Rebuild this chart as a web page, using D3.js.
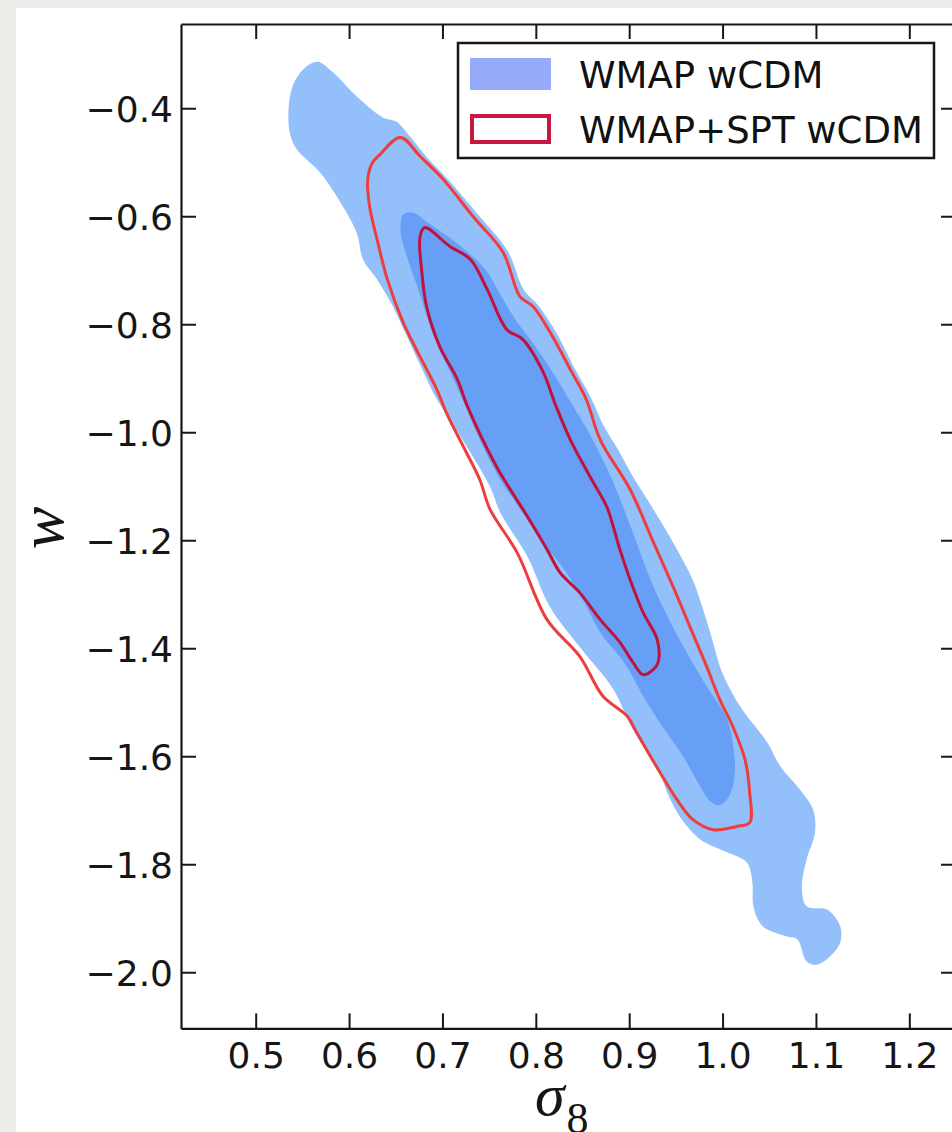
<!DOCTYPE html>
<html>
<head>
<meta charset="utf-8">
<script src="https://cdn.jsdelivr.net/npm/d3@7"></script>
<style>
  html, body { margin: 0; padding: 0; background: #ecece8; }
  svg { display: block; }
</style>
</head>
<body>
<svg id="chart" width="952" height="1132"></svg>
<script>
// Axis ticks
const xTicks = [0.5, 0.6, 0.7, 0.8, 0.9, 1.0, 1.1, 1.2];
const yTicks = [-2.0, -1.8, -1.6, -1.4, -1.2, -1.0, -0.8, -0.6, -0.4];

// Legend entries
const seriesNames = ["WMAP wCDM", "WMAP+SPT wCDM"];

// WMAP wCDM, 95% region (sigma_8, w)
const wmap95 = [[0.566,-0.314],[0.583,-0.334],[0.608,-0.378],[0.636,-0.417],[0.651,-0.425],[0.665,-0.452],[0.681,-0.486],[0.706,-0.532],[0.738,-0.597],[0.770,-0.665],[0.787,-0.736],[0.802,-0.764],[0.823,-0.819],[0.841,-0.880],[0.859,-0.936],[0.872,-0.986],[0.888,-1.032],[0.904,-1.082],[0.926,-1.143],[0.947,-1.204],[0.968,-1.273],[0.979,-1.328],[0.989,-1.384],[0.999,-1.443],[1.019,-1.508],[1.048,-1.575],[1.062,-1.619],[1.083,-1.662],[1.097,-1.699],[1.099,-1.741],[1.090,-1.791],[1.085,-1.841],[1.090,-1.878],[1.112,-1.884],[1.126,-1.915],[1.126,-1.945],[1.115,-1.971],[1.101,-1.986],[1.090,-1.980],[1.080,-1.939],[1.069,-1.934],[1.043,-1.915],[1.033,-1.878],[1.032,-1.834],[1.026,-1.797],[1.005,-1.778],[0.976,-1.754],[0.958,-1.721],[0.944,-1.680],[0.933,-1.634],[0.917,-1.588],[0.901,-1.541],[0.883,-1.476],[0.849,-1.402],[0.815,-1.323],[0.791,-1.230],[0.762,-1.149],[0.751,-1.101],[0.730,-1.038],[0.710,-0.982],[0.694,-0.939],[0.676,-0.875],[0.660,-0.815],[0.647,-0.767],[0.630,-0.717],[0.615,-0.680],[0.608,-0.630],[0.587,-0.564],[0.569,-0.519],[0.544,-0.476],[0.537,-0.449],[0.535,-0.408],[0.539,-0.362],[0.551,-0.328]];

// WMAP wCDM, 68% region
const wmap68 = [[0.658,-0.597],[0.668,-0.593],[0.683,-0.610],[0.703,-0.634],[0.724,-0.662],[0.746,-0.699],[0.762,-0.745],[0.778,-0.791],[0.794,-0.828],[0.818,-0.889],[0.839,-0.949],[0.855,-0.995],[0.869,-1.041],[0.883,-1.093],[0.904,-1.186],[0.926,-1.286],[0.954,-1.384],[0.983,-1.471],[1.005,-1.532],[1.013,-1.606],[1.013,-1.634],[1.008,-1.671],[0.997,-1.691],[0.987,-1.684],[0.976,-1.656],[0.958,-1.601],[0.938,-1.551],[0.917,-1.495],[0.896,-1.430],[0.869,-1.371],[0.853,-1.319],[0.833,-1.260],[0.805,-1.199],[0.780,-1.134],[0.762,-1.088],[0.740,-1.014],[0.724,-0.949],[0.708,-0.888],[0.692,-0.828],[0.681,-0.773],[0.673,-0.730],[0.662,-0.675],[0.655,-0.625]];

// WMAP+SPT wCDM, 95% contour
const spt95 = [[0.655,-0.454],[0.676,-0.489],[0.701,-0.532],[0.733,-0.601],[0.765,-0.667],[0.783,-0.749],[0.797,-0.767],[0.818,-0.823],[0.837,-0.884],[0.854,-0.939],[0.869,-1.014],[0.901,-1.106],[0.926,-1.204],[0.947,-1.286],[0.965,-1.360],[0.983,-1.434],[0.997,-1.495],[1.011,-1.545],[1.024,-1.606],[1.029,-1.667],[1.029,-1.723],[1.015,-1.730],[0.990,-1.736],[0.968,-1.717],[0.951,-1.680],[0.933,-1.630],[0.908,-1.556],[0.898,-1.526],[0.872,-1.489],[0.847,-1.415],[0.812,-1.347],[0.780,-1.223],[0.751,-1.143],[0.740,-1.088],[0.724,-1.032],[0.705,-0.967],[0.694,-0.921],[0.676,-0.860],[0.658,-0.797],[0.641,-0.717],[0.630,-0.643],[0.622,-0.582],[0.620,-0.532],[0.625,-0.501],[0.633,-0.486]];

// WMAP+SPT wCDM, 68% contour
const spt68 = [[0.681,-0.621],[0.708,-0.656],[0.730,-0.680],[0.748,-0.736],[0.769,-0.810],[0.786,-0.828],[0.808,-0.889],[0.821,-0.949],[0.837,-1.014],[0.858,-1.082],[0.876,-1.138],[0.883,-1.175],[0.890,-1.217],[0.901,-1.273],[0.915,-1.334],[0.930,-1.384],[0.931,-1.426],[0.926,-1.439],[0.915,-1.449],[0.904,-1.426],[0.890,-1.389],[0.869,-1.347],[0.847,-1.297],[0.826,-1.260],[0.812,-1.217],[0.791,-1.156],[0.758,-1.064],[0.726,-0.949],[0.716,-0.902],[0.697,-0.841],[0.683,-0.767],[0.678,-0.704],[0.676,-0.638]];

const svg = d3.select("#chart");
const W = 952, H = 1132;

// page backdrop and white panel
svg.append("rect").attr("width", W).attr("height", H).attr("fill", "#ecece8");
svg.append("rect").attr("x", 16).attr("y", 8).attr("width", W - 16).attr("height", H - 8).attr("fill", "#ffffff");

const plot = { left: 181, top: 24, right: 956, bottom: 1028.4 };

const x = d3.scaleLinear().domain([0.42, 1.25]).range([plot.left, plot.right]);
const y = d3.scaleLinear().domain([-2.104, -0.244]).range([plot.bottom, plot.top]);

svg.append("clipPath").attr("id", "plotClip")
  .append("rect")
  .attr("x", plot.left).attr("y", plot.top)
  .attr("width", plot.right - plot.left).attr("height", plot.bottom - plot.top);

const gPlot = svg.append("g").attr("clip-path", "url(#plotClip)");

const smooth = d3.line().x(d => x(d[0])).y(d => y(d[1])).curve(d3.curveCatmullRomClosed.alpha(0.5));

gPlot.append("path").attr("d", smooth(wmap95)).attr("fill", "#93bffb");
gPlot.append("path").attr("d", smooth(wmap68)).attr("fill", "#679ff7");
gPlot.append("path").attr("d", smooth(spt95)).attr("fill", "none")
  .attr("stroke", "#ef3d3d").attr("stroke-width", 3).attr("stroke-linejoin", "round");
gPlot.append("path").attr("d", smooth(spt68)).attr("fill", "none")
  .attr("stroke", "#c2123a").attr("stroke-width", 3).attr("stroke-linejoin", "round");

// axes: box with inward ticks on all four sides
const fmt = d3.format(".1f");
const tickLen = 15;

function styleAxis(g) {
  g.attr("font-family", "'DejaVu Sans', sans-serif").attr("font-size", 36);
  g.selectAll(".domain").attr("stroke", "#161616").attr("stroke-width", 2.2);
  g.selectAll(".tick line").attr("stroke", "#161616").attr("stroke-width", 2);
  g.selectAll(".tick text").attr("fill", "#161616");
}

svg.append("g").attr("transform", `translate(0,${plot.bottom})`)
  .call(d3.axisBottom(x).tickValues(xTicks).tickFormat(fmt).tickSize(-tickLen).tickSizeOuter(0).tickPadding(14.5))
  .call(styleAxis);

svg.append("g").attr("transform", `translate(0,${plot.top})`)
  .call(d3.axisTop(x).tickValues(xTicks).tickFormat("").tickSize(-tickLen).tickSizeOuter(0))
  .call(styleAxis);

svg.append("g").attr("transform", `translate(${plot.left},0)`)
  .call(d3.axisLeft(y).tickValues(yTicks).tickFormat(fmt).tickSize(-tickLen).tickSizeOuter(0).tickPadding(8))
  .call(styleAxis)
  .selectAll(".tick text").attr("dy", "0.36em");

svg.append("g").attr("transform", `translate(${plot.right},0)`)
  .call(d3.axisRight(y).tickValues(yTicks).tickFormat("").tickSize(-tickLen).tickSizeOuter(0))
  .call(styleAxis);

// axis titles
const xt = svg.append("text")
  .attr("x", 535).attr("y", 1115)
  .attr("font-family", "'Liberation Serif', serif")
  .attr("fill", "#161616");
xt.append("tspan").attr("font-style", "italic").attr("font-size", 60).text("σ");
xt.append("tspan").attr("font-size", 44).attr("dx", 2).attr("dy", 18).text("8");

svg.append("text")
  .attr("transform", "translate(63,528) rotate(-90)")
  .attr("text-anchor", "middle")
  .attr("font-family", "'Liberation Serif', serif")
  .attr("font-style", "italic")
  .attr("font-size", 64)
  .attr("fill", "#161616")
  .text("w");

// legend
const lg = svg.append("g").attr("font-family", "'DejaVu Sans', sans-serif").attr("font-size", 37);
lg.append("rect").attr("x", 458).attr("y", 43).attr("width", 476).attr("height", 115)
  .attr("fill", "#ffffff").attr("stroke", "#161616").attr("stroke-width", 2.5);
lg.append("rect").attr("x", 470).attr("y", 58).attr("width", 81).attr("height", 32).attr("fill", "#95abfa");
lg.append("rect").attr("x", 472).attr("y", 116).attr("width", 77).attr("height", 26)
  .attr("fill", "#ffffff").attr("stroke", "#c8173c").attr("stroke-width", 4);
lg.selectAll("text.lab").data(seriesNames).join("text")
  .attr("class", "lab")
  .attr("x", 579)
  .attr("y", (d, i) => i === 0 ? 88 : 143)
  .attr("fill", "#111111")
  .text(d => d);
</script>
</body>
</html>
